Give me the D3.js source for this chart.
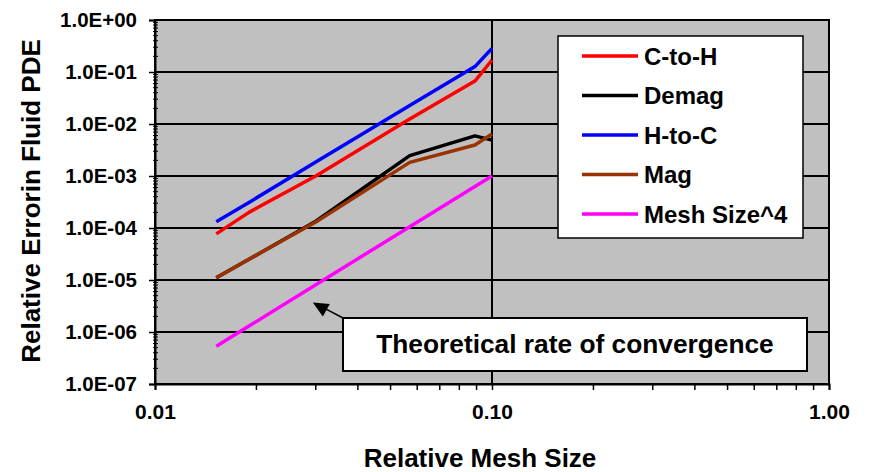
<!DOCTYPE html>
<html>
<head>
<meta charset="utf-8">
<script src="https://cdn.jsdelivr.net/npm/d3@7"></script>
<style>
  html, body { margin: 0; padding: 0; background: #fff; }
  svg { display: block; font-family: "Liberation Sans", Arial, sans-serif; font-weight: bold; }
</style>
</head>
<body>
<svg id="chart" width="869" height="472"></svg>
<script>
// Mesh sizes (x) shared by every series
const meshSizes = [0.0152, 0.019, 0.03, 0.057, 0.089, 0.1];

// Relative error for each coupling direction
const seriesNames = ["C-to-H", "Demag", "H-to-C", "Mag", "Mesh Size^4"];
const seriesColors = ["#ff0000", "#000000", "#0000ff", "#993300", "#ff00ff"];
const cToH   = [7.7e-5, 2.0e-4, 1.0e-3, 1.25e-2, 6.7e-2, 1.7e-1];
const demag  = [1.1e-5, 2.5e-5, 1.35e-4, 2.46e-3, 5.9e-3, 4.9e-3];
const hToC   = [1.32e-4, 3.1e-4, 1.85e-3, 2.27e-2, 1.27e-1, 2.85e-1];
const mag    = [1.1e-5, 2.5e-5, 1.3e-4, 1.83e-3, 3.95e-3, 6.4e-3];
const mesh4  = [5.3e-7, 1.3e-6, 8.1e-6, 1.06e-4, 6.3e-4, 1.0e-3];
const seriesValues = [cToH, demag, hToC, mag, mesh4];

// Axis tick labels
const xTickValues = [0.01, 0.1, 1];
const xTickLabels = ["0.01", "0.10", "1.00"];
const yTickValues = [1e0, 1e-1, 1e-2, 1e-3, 1e-4, 1e-5, 1e-6, 1e-7];
const yTickLabels = ["1.0E+00", "1.0E-01", "1.0E-02", "1.0E-03", "1.0E-04", "1.0E-05", "1.0E-06", "1.0E-07"];

const xTitle = "Relative Mesh Size";
const yTitle = "Relative Errorin Fluid PDE";
const noteText = "Theoretical rate of convergence";
// point the note's arrow at the reference line
const noteTarget = [0.0294, 3.7e-6];

const svg = d3.select("#chart");
const margin = { left: 155, top: 20, right: 40, bottom: 88 };
const W = 869, H = 472;
const pw = W - margin.left - margin.right;   // 674
const ph = H - margin.top - margin.bottom;   // 364

const x = d3.scaleLog().domain([0.01, 1]).range([0, pw]);
const y = d3.scaleLog().domain([1e-7, 1]).range([ph, 0]);

const g = svg.append("g").attr("transform", `translate(${margin.left},${margin.top})`);

// plot background
g.append("rect").attr("width", pw).attr("height", ph).attr("fill", "#c0c0c0");

// major gridlines
g.append("g").selectAll("line").data(yTickValues).join("line")
  .attr("x1", 0).attr("x2", pw)
  .attr("y1", d => y(d)).attr("y2", d => y(d))
  .attr("stroke", "#000").attr("stroke-width", 2);
g.append("g").selectAll("line").data(xTickValues).join("line")
  .attr("y1", 0).attr("y2", ph)
  .attr("x1", d => x(d)).attr("x2", d => x(d))
  .attr("stroke", "#000").attr("stroke-width", 2);

// minor ticks on the y axis
const yMinor = [];
for (let e = -7; e < 0; e++) for (let m = 2; m <= 9; m++) yMinor.push(m * Math.pow(10, e));
g.append("g").selectAll("line").data(yMinor).join("line")
  .attr("x1", -2).attr("x2", 3)
  .attr("y1", d => y(d)).attr("y2", d => y(d))
  .attr("stroke", "#000").attr("stroke-width", 1);

// minor ticks on the x axis
const xMinor = [];
for (let e = -2; e < 0; e++) for (let m = 2; m <= 9; m++) xMinor.push(m * Math.pow(10, e));
g.append("g").selectAll("line").data(xMinor).join("line")
  .attr("y1", ph).attr("y2", ph + 6)
  .attr("x1", d => x(d)).attr("x2", d => x(d))
  .attr("stroke", "#000").attr("stroke-width", 1.5);

// axes
const xAxis = d3.axisBottom(x).tickValues(xTickValues).tickSize(6).tickPadding(14)
  .tickFormat((d, i) => xTickLabels[i]);
const yAxis = d3.axisLeft(y).tickValues(yTickValues).tickSize(6).tickPadding(12)
  .tickFormat((d, i) => yTickLabels[i]);

const gx = g.append("g").attr("transform", `translate(0,${ph})`).call(xAxis);
const gy = g.append("g").call(yAxis);
[gx, gy].forEach(a => {
  a.select(".domain").attr("stroke", "#000").attr("stroke-width", 2);
  a.selectAll(".tick line").attr("stroke", "#000").attr("stroke-width", 1.5);
  a.selectAll("text").attr("fill", "#000")
    .style("font-family", "'Liberation Sans', Arial, sans-serif").style("font-weight", "bold");
});
gx.selectAll("text").style("font-size", "21px");
gy.selectAll("text").style("font-size", "20.5px");

// plot frame
g.append("rect").attr("width", pw).attr("height", ph)
  .attr("fill", "none").attr("stroke", "#000").attr("stroke-width", 2);

// series lines
const line = d3.line().x(d => x(d[0])).y(d => y(d[1]));
seriesValues.forEach((vals, i) => {
  g.append("path")
    .datum(meshSizes.map((m, j) => [m, vals[j]]))
    .attr("d", line)
    .attr("fill", "none")
    .attr("stroke", seriesColors[i])
    .attr("stroke-width", 3.5)
    .attr("stroke-linejoin", "round");
});

// legend
const lg = g.append("g").attr("transform", "translate(403,16)");
lg.append("rect").attr("width", 245).attr("height", 202)
  .attr("fill", "#fff").attr("stroke", "#000").attr("stroke-width", 1.5);
seriesNames.forEach((name, i) => {
  const ry = 20 + i * 39.5;
  lg.append("line").attr("x1", 24).attr("x2", 80).attr("y1", ry).attr("y2", ry)
    .attr("stroke", seriesColors[i]).attr("stroke-width", 3.5);
  lg.append("text").attr("x", 86).attr("y", ry).attr("dy", "0.36em")
    .style("font-size", "24px").text(name);
});

// note box with arrow
const nb = { x: 188, y: 298, w: 464, h: 53 };
const tip = [x(noteTarget[0]), y(noteTarget[1])];
g.append("line").attr("x1", nb.x).attr("y1", nb.y)
  .attr("x2", tip[0] + 10).attr("y2", tip[1] + 5)
  .attr("stroke", "#000").attr("stroke-width", 1.5);
g.append("path")
  .attr("d", `M${tip[0]},${tip[1]} L${tip[0] + 17},${tip[1] + 1.5} L${tip[0] + 10},${tip[1] + 14} Z`)
  .attr("fill", "#000");
g.append("rect").attr("x", nb.x).attr("y", nb.y).attr("width", nb.w).attr("height", nb.h)
  .attr("fill", "#fff").attr("stroke", "#000").attr("stroke-width", 2);
g.append("text").attr("x", nb.x + nb.w / 2).attr("y", nb.y + 35)
  .attr("text-anchor", "middle").style("font-size", "26.3px").text(noteText);

// axis titles
svg.append("text").attr("x", 480).attr("y", 467).attr("text-anchor", "middle")
  .style("font-size", "26px").text(xTitle);
svg.append("text").attr("transform", "translate(40,201) rotate(-90)")
  .attr("text-anchor", "middle").style("font-size", "26px").text(yTitle);
</script>
</body>
</html>
